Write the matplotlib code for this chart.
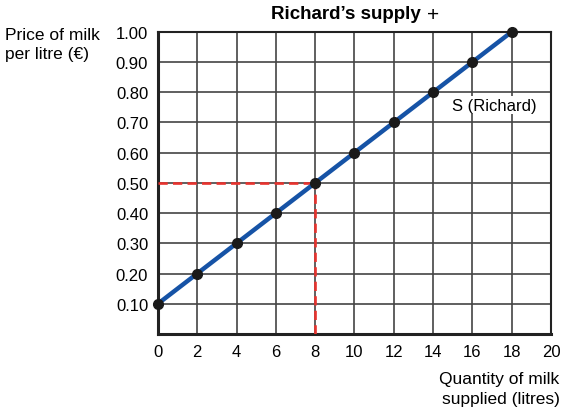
import matplotlib
matplotlib.use("Agg")
import matplotlib.pyplot as plt

plt.rcParams['font.family'] = ['Liberation Sans', 'DejaVu Sans']

# supply schedule
quantity = [0, 2, 4, 6, 8, 10, 12, 14, 16, 18]
price = [0.10, 0.20, 0.30, 0.40, 0.50, 0.60, 0.70, 0.80, 0.90, 1.00]

x_ticks = [0, 2, 4, 6, 8, 10, 12, 14, 16, 18, 20]
y_ticks = [0.1, 0.2, 0.3, 0.4, 0.5, 0.6, 0.7, 0.8, 0.9, 1.0]
y_labels = ['0.10', '0.20', '0.30', '0.40', '0.50', '0.60', '0.70', '0.80', '0.90', '1.00']

# highlighted point
q_mark = 8
p_mark = 0.50

fig = plt.figure(figsize=(5.64, 4.10), dpi=100)
ax = fig.add_axes([0.280, 0.183, 0.697, 0.737])

ax.set_xlim(0, 20)
ax.set_ylim(0, 1.0)
ax.set_xticks(x_ticks)
ax.set_xticklabels([str(v) for v in x_ticks], fontsize=12)
ax.set_yticks(y_ticks)
ax.set_yticklabels(y_labels, fontsize=12)
ax.tick_params(length=0, pad=7)
ax.grid(True, color='#444444', linewidth=1.2)
ax.set_axisbelow(True)
for s in ax.spines.values():
    s.set_color('#222222')
    s.set_linewidth(1.5)
ax.spines['left'].set_linewidth(2.2)
ax.spines['bottom'].set_linewidth(2.2)

# red dashed guides
ax.plot([0, q_mark], [p_mark, p_mark], color='#e8332e', linewidth=1.9,
        dashes=(3.5, 2), zorder=3)
ax.plot([q_mark, q_mark], [0, p_mark], color='#e8332e', linewidth=1.9,
        dashes=(3.5, 2), zorder=3)

ax.plot(quantity, price, color='#1653a6', linewidth=3.2, zorder=4,
        solid_capstyle='butt')
ax.plot(quantity, price, 'o', color='#1a1a1a', markersize=7, zorder=5,
        clip_on=False)

ax.text(17.1, 0.757, 'S (Richard)', fontsize=12, ha='center', va='center',
        bbox=dict(facecolor='white', edgecolor='none', pad=1), zorder=6)

fig.text(0.614, 0.965, "Richard\u2019s supply", fontsize=13.5, fontweight='bold',
         ha='center', va='center')
fig.text(0.768, 0.963, "+", fontsize=15, ha='center', va='center')

fig.text(0.009, 0.890, 'Price of milk\nper litre (\u20ac)', fontsize=12.5,
         ha='left', va='center', linespacing=1.4)
fig.text(0.992, 0.050, 'Quantity of milk\nsupplied (litres)', fontsize=12.5,
         ha='right', va='center', linespacing=1.4)

fig.savefig('out.png', dpi=100)
